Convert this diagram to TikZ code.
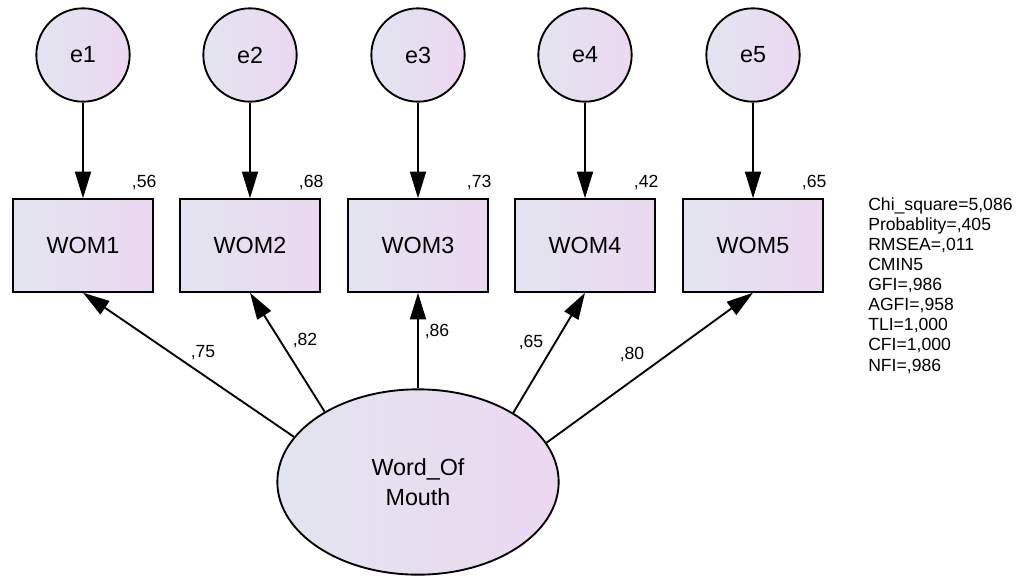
\documentclass[tikz,border=0pt]{standalone}
\usepackage{fontspec}
\setmainfont{Liberation Sans}
\usetikzlibrary{arrows.meta}
\usetikzlibrary{shapes.geometric}

\definecolor{shadeL}{RGB}{226,229,239}
\definecolor{shadeR}{RGB}{236,215,241}

\begin{document}
\begin{tikzpicture}[x=0.75pt,y=0.75pt,
    var/.style={draw,line width=1.4pt,left color=shadeL,right color=shadeR,
      inner sep=0pt,font=\fontsize{17.5}{21}\selectfont},
    err/.style={var,circle,minimum size=70pt},
    obs/.style={var,rectangle,minimum width=105pt,minimum height=69.5pt},
    lat/.style={var,ellipse,minimum width=211pt,minimum height=139pt,
      align=center,font=\fontsize{17.5}{22.5}\selectfont},
    num/.style={inner sep=0pt,font=\fontsize{13.2}{15}\selectfont},
    path/.style={line width=1.4pt,-{Triangle[length=20pt,width=12pt]}}]

  \useasboundingbox (0,0) rectangle (1019,-578);

  % error terms, indicators and squared multiple correlations
  \foreach \i/\x/\r in {1/83/56,2/250/68,3/418/73,4/585/42,5/753/65} {
    \node [err] (e\i)   at (\x,-55)    {e\i};
    \node [obs] (wom\i) at (\x,-245.5) {WOM\i};
    \node [num,anchor=base east,xshift=2pt,yshift=8pt] (r\i) at (wom\i.north east) {,\r};
    \draw [path] (e\i) -- (wom\i);
  }

  \node [lat] (W) at (418,-482) {Word\_Of\\Mouth};

  % loadings
  \draw [path] (W.160.6) -- (wom1.south);
  \draw [path] (W.143.7) -- (wom2.south);
  \draw [path] (W.90)    -- (wom3.south);
  \draw [path] (W.36.8)  -- (wom4.south);
  \draw [path] (W.17.2)  -- (wom5.south);

  \node [num] (c1) at (203,-353) {,75};
  \node [num] (c2) at (305,-340) {,82};
  \node [num] (c3) at (437,-331) {,86};
  \node [num] (c4) at (531,-342) {,65};
  \node [num] (c5) at (632,-354) {,80};

  % fit indices
  \node [num,anchor=north west,align=left,font=\fontsize{13.2}{15.1}\selectfont] (fit) at (868,-197)
    {Chi\_square=5,086\\Probablity=,405\\RMSEA=,011\\CMIN5\\GFI=,986\\AGFI=,958\\TLI=1,000\\CFI=1,000\\NFI=,986};

\end{tikzpicture}
\end{document}
